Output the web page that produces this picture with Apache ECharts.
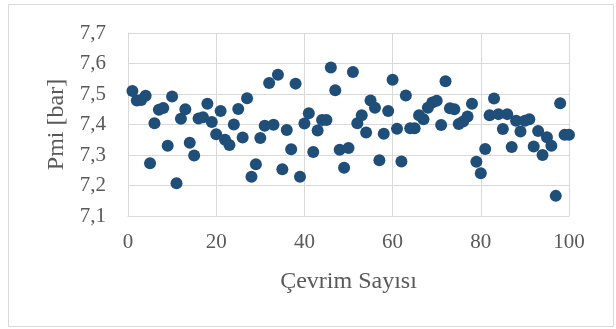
<!DOCTYPE html>
<html>
<head>
<meta charset="utf-8">
<script src="https://cdn.jsdelivr.net/npm/echarts@6/dist/echarts.min.js"></script>
<style>
  html, body { margin: 0; padding: 0; background: #ffffff; }
  #chart { width: 616px; height: 329px; }
</style>
</head>
<body>
<div id="chart"></div>
<script>
// cycle number (Çevrim Sayısı) 1..100
const cycles = [
  1, 2, 3, 4, 5, 6, 7, 8, 9, 10,
  11, 12, 13, 14, 15, 16, 17, 18, 19, 20,
  21, 22, 23, 24, 25, 26, 27, 28, 29, 30,
  31, 32, 33, 34, 35, 36, 37, 38, 39, 40,
  41, 42, 43, 44, 45, 46, 47, 48, 49, 50,
  51, 52, 53, 54, 55, 56, 57, 58, 59, 60,
  61, 62, 63, 64, 65, 66, 67, 68, 69, 70,
  71, 72, 73, 74, 75, 76, 77, 78, 79, 80,
  81, 82, 83, 84, 85, 86, 87, 88, 89, 90,
  91, 92, 93, 94, 95, 96, 97, 98, 99, 100,
]

// Pmi [bar]
const pmi = [
  7.510, 7.479, 7.480, 7.494, 7.273, 7.404, 7.448, 7.454, 7.330, 7.492,
  7.207, 7.419, 7.450, 7.340, 7.298, 7.420, 7.424, 7.468, 7.408, 7.368,
  7.444, 7.350, 7.333, 7.400, 7.451, 7.357, 7.486, 7.229, 7.270, 7.356,
  7.396, 7.536, 7.399, 7.563, 7.253, 7.382, 7.319, 7.534, 7.229, 7.403,
  7.437, 7.310, 7.380, 7.415, 7.415, 7.587, 7.512, 7.317, 7.258, 7.323,
  7.572, 7.404, 7.430, 7.374, 7.479, 7.455, 7.283, 7.370, 7.444, 7.547,
  7.386, 7.279, 7.495, 7.388, 7.388, 7.430, 7.417, 7.455, 7.472, 7.478,
  7.398, 7.542, 7.453, 7.450, 7.402, 7.410, 7.426, 7.468, 7.278, 7.240,
  7.320, 7.430, 7.485, 7.434, 7.385, 7.434, 7.326, 7.412, 7.377, 7.412,
  7.417, 7.328, 7.379, 7.300, 7.358, 7.330, 7.166, 7.470, 7.366, 7.366,
]

const xTicks = { min: 0, max: 100, interval: 20 }
const yTicks = { min: 7.1, max: 7.7, interval: 0.1 }

const FONT = "'Liberation Serif', 'DejaVu Serif', serif"
const TEXT_COLOR = '#595959'
const GRID_COLOR = '#d9d9d9'

const chart = echarts.init(document.getElementById('chart'), null, { renderer: 'canvas' })

const option = {
  animation: false,
  backgroundColor: '#ffffff',
  grid: { left: 128, right: 47, top: 33, bottom: 113, containLabel: false },
  xAxis: {
    type: 'value',
    ...xTicks,
    name: 'Çevrim Sayısı',
    nameLocation: 'middle',
    nameGap: 54,
    nameTextStyle: { fontFamily: FONT, fontSize: 24, color: TEXT_COLOR },
    axisLine: { show: true, lineStyle: { color: GRID_COLOR, width: 1 } },
    axisTick: { show: false },
    axisLabel: { fontFamily: FONT, fontSize: 21, color: TEXT_COLOR, margin: 16 },
    splitLine: { show: true, lineStyle: { color: GRID_COLOR, width: 1 } },
  },
  yAxis: {
    type: 'value',
    ...yTicks,
    name: 'Pmi [bar]',
    nameLocation: 'middle',
    nameGap: 58,
    nameTextStyle: { fontFamily: FONT, fontSize: 24, color: TEXT_COLOR },
    axisLine: { show: true, lineStyle: { color: GRID_COLOR, width: 1 } },
    axisTick: { show: false },
    axisLabel: {
      fontFamily: FONT,
      fontSize: 21,
      color: TEXT_COLOR,
      margin: 22,
      formatter: (v) => v.toFixed(1).replace('.', ','),
    },
    splitLine: { show: true, lineStyle: { color: GRID_COLOR, width: 1 } },
  },
  series: [
    {
      type: 'scatter',
      symbol: 'circle',
      symbolSize: 12,
      itemStyle: { color: '#1f4e79', opacity: 1 },
      data: cycles.map((c, i) => [c, pmi[i]]),
    },
  ],
  graphic: [
    {
      // chart area border
      type: 'rect',
      shape: { x: 8.5, y: 4.5, width: 605, height: 322 },
      style: { fill: null, stroke: GRID_COLOR, lineWidth: 1 },
      silent: true,
    },
  ],
}

chart.setOption(option)
</script>
</body>
</html>
